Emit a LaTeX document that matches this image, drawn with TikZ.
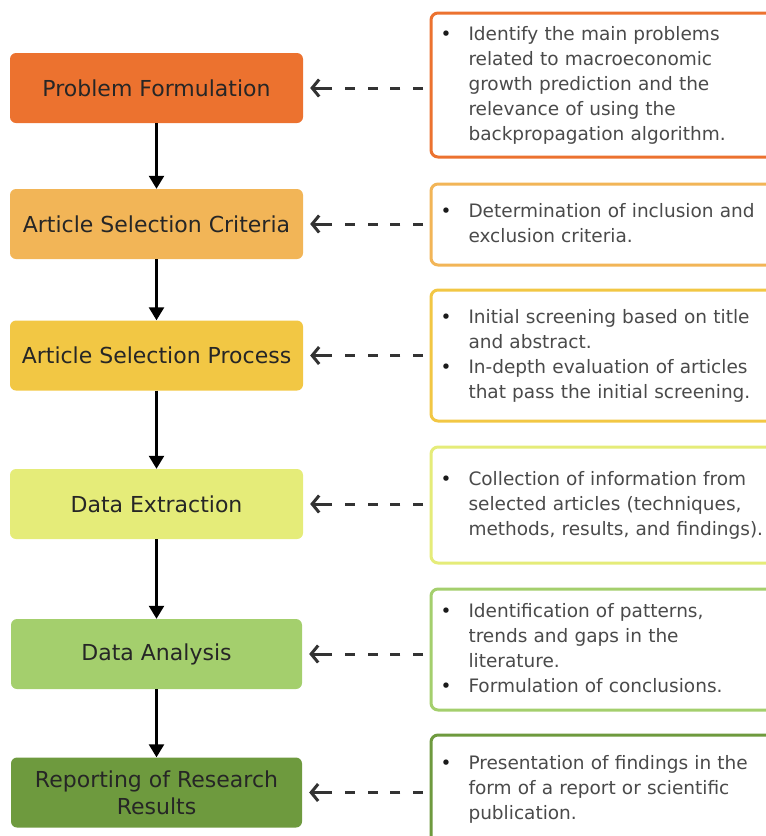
\documentclass[tikz,border=0pt]{standalone}
\usepackage{fontspec}
\setmainfont{DejaVu Sans}
\usepackage{xcolor}
\usetikzlibrary{arrows.meta, positioning}

\definecolor{formulation}{HTML}{EC722F}
\definecolor{criteria}{HTML}{F2B557}
\definecolor{process}{HTML}{F2C744}
\definecolor{extraction}{HTML}{E5EC79}
\definecolor{analysis}{HTML}{A4CF6D}
\definecolor{reporting}{HTML}{6E9A3E}
\definecolor{steptext}{HTML}{262626}
\definecolor{notetext}{HTML}{4A4A4A}
\definecolor{linkgray}{HTML}{333333}
\definecolor{bulletcol}{HTML}{1A1A1A}

\newcommand{\bul}{\makebox[28pt][l]{\textcolor{bulletcol}{\textbullet}}}

\begin{document}
\begin{tikzpicture}[x=1pt, y=-1pt,
    stepbox/.style={rectangle, rounded corners=6pt, minimum width=293pt, minimum height=70pt,
        inner sep=0pt, align=center, text=steptext, font=\fontsize{22pt}{27pt}\selectfont},
    notebox/.style={rectangle, draw, line width=3pt, rounded corners=7pt, anchor=west, fill=white,
        text width=377pt, inner xsep=9.5pt, inner ysep=0pt, align=left, text=notetext,
        font=\fontsize{18.5pt}{25pt}\selectfont},
    flow/.style={draw=black, line width=2.5pt, -{Triangle[width=15pt,length=13pt]}},
    link/.style={draw=linkgray, line width=3pt,
        dash pattern=on 10pt off 12.7pt on 10pt off 12.7pt on 10pt off 12.7pt on 10pt off 12.7pt on 40pt off 10pt,
        -{Straight Barb[length=7pt,width=17pt]}, shorten >=7pt, shorten <=6.5pt}]

    \clip (0,0) rectangle (766,836);

    % steps
    \node[stepbox, fill=formulation] (formulation) at (156.5,88) {Problem Formulation};
    \node[stepbox, fill=criteria] (criteria) at (156.5,224) {Article Selection Criteria};
    \node[stepbox, fill=process] (process) at (156.5,355.5) {Article Selection Process};
    \node[stepbox, fill=extraction] (extraction) at (156.5,504) {Data Extraction};
    \node[stepbox, fill=analysis, minimum width=291pt] (analysis) at (156.5,654) {Data Analysis};
    \node[stepbox, fill=reporting, minimum width=291pt] (reporting) at (156.5,792.5) {Reporting of Research\\Results};

    % notes
    \node[notebox, draw=formulation, minimum height=144pt] (noteA) at (429.5,85) {%
        \begin{tabular}{@{}l@{}l@{}}
        \bul & Identify the main problems\\
        & related to macroeconomic\\
        & growth prediction and the\\
        & relevance of using the\\
        & backpropagation algorithm.
        \end{tabular}};
    \node[notebox, draw=criteria, minimum height=81pt] (noteB) at (429.5,224.5) {%
        \begin{tabular}{@{}l@{}l@{}}
        \bul & Determination of inclusion and\\
        & exclusion criteria.
        \end{tabular}};
    \node[notebox, draw=process, minimum height=131pt] (noteC) at (429.5,355.5) {%
        \begin{tabular}{@{}l@{}l@{}}
        \bul & Initial screening based on title\\
        & and abstract.\\
        \bul & In-depth evaluation of articles\\
        & that pass the initial screening.
        \end{tabular}};
    \node[notebox, draw=extraction, minimum height=116pt] (noteD) at (429.5,505) {%
        \begin{tabular}{@{}l@{}l@{}}
        \bul & Collection of information from\\
        & selected articles (techniques,\\
        & methods, results, and findings).
        \end{tabular}};
    \node[notebox, draw=analysis, minimum height=121pt] (noteE) at (429.5,649.5) {%
        \begin{tabular}{@{}l@{}l@{}}
        \bul & Identification of patterns,\\
        & trends and gaps in the\\
        & literature.\\
        \bul & Formulation of conclusions.
        \end{tabular}};
    \node[notebox, draw=reporting, minimum height=108pt] (noteF) at (429.5,789) {%
        \begin{tabular}{@{}l@{}l@{}}
        \bul & Presentation of findings in the\\
        & form of a report or scientific\\
        & publication.
        \end{tabular}};

    % flow
    \draw[flow] (formulation) -- (criteria);
    \draw[flow] (criteria) -- (process);
    \draw[flow] (process) -- (extraction);
    \draw[flow] (extraction) -- (analysis);
    \draw[flow] (analysis) -- (reporting);

    % links
    \draw[link] (noteA.west |- formulation.east) -- (formulation.east);
    \draw[link] (noteB.west |- criteria.east) -- (criteria.east);
    \draw[link] (noteC.west |- process.east) -- (process.east);
    \draw[link] (noteD.west |- extraction.east) -- (extraction.east);
    \draw[link] (noteE.west |- analysis.east) -- (analysis.east);
    \draw[link] (noteF.west |- reporting.east) -- (reporting.east);
\end{tikzpicture}
\end{document}
